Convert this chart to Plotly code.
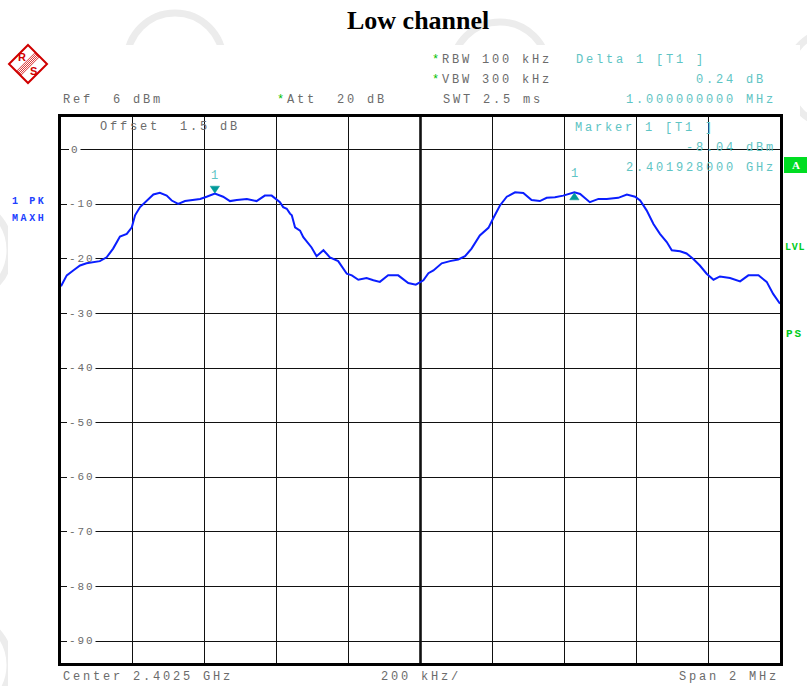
import plotly.graph_objects as go

# ---------------- data ----------------
freq_mhz = [2401.500, 2401.516, 2401.534, 2401.553, 2401.571, 2401.590, 2401.608, 2401.627,
            2401.645, 2401.664, 2401.683, 2401.697, 2401.706, 2401.720, 2401.738, 2401.757,
            2401.775, 2401.794, 2401.808, 2401.826, 2401.845, 2401.868, 2401.887, 2401.905,
            2401.928, 2401.951, 2401.970, 2401.989, 2402.017, 2402.044, 2402.067, 2402.086,
            2402.100, 2402.109, 2402.118, 2402.128, 2402.137, 2402.142, 2402.151, 2402.165,
            2402.174, 2402.188, 2402.197, 2402.211, 2402.230, 2402.248, 2402.271, 2402.295,
            2402.309, 2402.327, 2402.350, 2402.369, 2402.387, 2402.410, 2402.438, 2402.466,
            2402.487, 2402.508, 2402.522, 2402.536, 2402.559, 2402.582, 2402.605, 2402.624,
            2402.642, 2402.665, 2402.689, 2402.702, 2402.721, 2402.740, 2402.763, 2402.786,
            2402.809, 2402.832, 2402.851, 2402.874, 2402.897, 2402.928, 2402.944, 2402.971,
            2402.995, 2403.018, 2403.050, 2403.074, 2403.097, 2403.111, 2403.129, 2403.148,
            2403.166, 2403.185, 2403.199, 2403.222, 2403.240, 2403.259, 2403.277, 2403.296,
            2403.315, 2403.333, 2403.361, 2403.389, 2403.412, 2403.440, 2403.463, 2403.481,
            2403.498, 2403.500]
level_dbm = [-25.0, -23.0, -22.1, -21.2, -20.8, -20.6, -20.4, -19.7,
             -18.1, -15.9, -15.4, -14.2, -12.0, -10.5, -9.3, -8.2,
             -7.9, -8.4, -9.3, -9.9, -9.4, -9.2, -9.0, -8.6,
             -8.04, -8.6, -9.4, -9.2, -9.0, -9.4, -8.4, -8.4,
             -9.2, -9.6, -10.5, -10.8, -11.7, -12.0, -14.2, -14.8,
             -16.0, -17.2, -17.9, -19.5, -18.4, -19.7, -20.4, -22.7,
             -23.0, -23.8, -23.5, -23.9, -24.2, -23.0, -23.0, -24.4,
             -24.7, -23.9, -22.6, -22.1, -20.8, -20.4, -20.1, -19.5,
             -18.1, -15.7, -14.3, -12.6, -10.2, -8.6, -7.8, -7.9,
             -9.2, -9.4, -8.8, -8.7, -8.4, -7.80, -8.1, -9.6,
             -9.0, -9.0, -8.8, -8.2, -8.6, -9.3, -11.1, -13.6,
             -15.4, -16.9, -18.4, -18.6, -19.0, -20.0, -21.2, -22.7,
             -23.8, -23.2, -23.5, -24.1, -23.0, -23.0, -24.2, -26.4,
             -28.1, -28.2]

CENTER_MHZ = 2402.5
SPAN_MHZ = 2.0
DIV_MHZ = 0.2
REF_DBM = 6.0
RANGE_DB = 100.0
y_tick_vals = [0, -10, -20, -30, -40, -50, -60, -70, -80, -90]
y_tick_text = ["0", "-10", "-20", "-30", "-40", "-50", "-60", "-70", "-80", "-90"]
marker_freq_mhz = 2401.928
marker_level_dbm = -8.04
delta_freq_mhz = 2402.928
delta_level_dbm = -7.80

X_START = CENTER_MHZ - SPAN_MHZ / 2
X_STOP = CENTER_MHZ + SPAN_MHZ / 2

# ---------------- geometry / style ----------------
W, H = 807, 686
L, R, T, B = 61, 780, 117, 663

GRAY = "#6b6b6b"
CYAN = "#5ec4c4"
TEAL = "#009a9a"
GREEN = "#00cc22"
STAR = "#00c000"
BLUE_TXT = "#2040ff"
TRACE = "#0a1eff"
RED = "#d00000"
MONO = "Liberation Mono"


def px(xp):
    return (xp - L) / (R - L)


def py(yp):
    return (B - yp) / (B - T)


annotations = []


def mono(text, x, y, anchor="left", color=GRAY, size=12, ls=2.8, bold=False, star=False):
    t = text.replace(" ", "\u00a0")
    body = f'<span style="letter-spacing:{ls}px">{t}</span>'
    if star:
        body = f'<span style="color:{STAR};letter-spacing:{ls}px">*</span>' + body
    if bold:
        body = "<b>" + body + "</b>"
    xx = x + (ls if anchor == "right" else 0)
    annotations.append(dict(
        text=body, x=px(xx), y=py(y), xref="paper", yref="paper",
        xanchor=anchor, yanchor="middle", showarrow=False, borderpad=0,
        font=dict(family=MONO, size=size, color=color)))


def plain(text, x, y, family, size, color):
    annotations.append(dict(text=text, x=px(x), y=py(y), xref="paper", yref="paper",
                            xanchor="center", yanchor="middle", showarrow=False,
                            borderpad=0, font=dict(family=family, size=size, color=color)))


fig = go.Figure()
fig.add_trace(go.Scatter(x=freq_mhz, y=level_dbm, mode="lines",
                         line=dict(color=TRACE, width=2), hoverinfo="skip",
                         showlegend=False))

shapes = []

# faint watermark arcs in the margins
for cx, cy, r in [(175, 61, 48), (500, 70, 48), (835, 78, 48), (-40, 250, 50), (-40, 665, 50)]:
    shapes.append(dict(type="circle", xref="paper", yref="paper", layer="below",
                       x0=px(cx - r), x1=px(cx + r), y0=py(cy + r), y1=py(cy - r),
                       line=dict(color="#ececec", width=7)))
shapes.append(dict(type="rect", xref="paper", yref="paper", layer="below",
                   x0=px(8), x1=px(800), y0=py(700), y1=py(45),
                   fillcolor="white", line=dict(width=0)))

# thicker centre graticule line
shapes.append(dict(type="line", xref="x", yref="paper", layer="between",
                   x0=CENTER_MHZ, x1=CENTER_MHZ, y0=0, y1=1,
                   line=dict(color="black", width=2.5)))

# level labels inside the graticule, breaking the grid lines
for v, t in zip(y_tick_vals, y_tick_text):
    x0 = 6 if t.startswith("-") else 8
    wpx = len(t) * 8.5 + 3
    shapes.append(dict(type="rect", xref="x", yref="y", layer="between",
                       xsizemode="pixel", ysizemode="pixel",
                       xanchor=X_START, yanchor=v, x0=x0, x1=x0 + wpx, y0=-6, y1=6,
                       fillcolor="white", line=dict(width=0)))
    annotations.append(dict(text=f'<span style="letter-spacing:1.9px">{t}</span>',
                            x=px(L + x0 + 1), y=v, xref="paper", yref="y",
                            xanchor="left", yanchor="middle", showarrow=False, borderpad=0,
                            font=dict(family=MONO, size=11, color=GRAY)))

# marker symbols
shapes.append(dict(type="path", xref="x", yref="y", xsizemode="pixel", ysizemode="pixel",
                   xanchor=marker_freq_mhz, yanchor=marker_level_dbm,
                   path="M -4.7,7.5 L 4.7,7.5 L 0,0.5 Z",
                   fillcolor=TEAL, line=dict(color=TEAL, width=0.5)))
shapes.append(dict(type="path", xref="x", yref="y", xsizemode="pixel", ysizemode="pixel",
                   xanchor=delta_freq_mhz, yanchor=delta_level_dbm,
                   path="M -4.7,-7.5 L 4.7,-7.5 L 0,-0.5 Z",
                   fillcolor=TEAL, line=dict(color=TEAL, width=0.5)))
for f, lv in [(marker_freq_mhz, marker_level_dbm), (delta_freq_mhz, delta_level_dbm)]:
    annotations.append(dict(text="1", x=f, y=lv, xref="x", yref="y", showarrow=False,
                            yshift=18, xanchor="center", yanchor="middle", borderpad=0,
                            font=dict(family=MONO, size=12, color=CYAN)))

# R&S logo
cxl, cyl, hr = 28, 64, 19
diamond = (f"M {px(cxl)},{py(cyl - hr)} L {px(cxl + hr)},{py(cyl)} "
           f"L {px(cxl)},{py(cyl + hr)} L {px(cxl - hr)},{py(cyl)} Z")
shapes.append(dict(type="path", xref="paper", yref="paper", path=diamond,
                   line=dict(color=RED, width=2)))
for off in [-3, -1.5, 0, 1.5, 3]:
    shapes.append(dict(type="line", xref="paper", yref="paper",
                       x0=px(cxl + 9.5 + off * 0.7), y0=py(cyl - 9.5 + off * 0.7),
                       x1=px(cxl - 9.5 + off * 0.7), y1=py(cyl + 9.5 + off * 0.7),
                       line=dict(color=RED, width=0.8)))
plain("<b>R</b>", 21.5, 57.5, "Liberation Sans", 11, RED)
plain("<b>S</b>", 33, 70.5, "Liberation Sans", 11, RED)

# green "A" box on the right
shapes.append(dict(type="rect", xref="paper", yref="paper",
                   x0=px(784), x1=px(808), y0=py(173), y1=py(157),
                   fillcolor="#00dd22", line=dict(width=0)))
plain("<b>A</b>", 795.5, 165, "Liberation Serif", 11, "white")

# title
plain("<b>Low channel</b>", 418, 21, "Liberation Serif", 26, "black")

# header / footer texts
mono("Ref  6 dBm", 62, 100)
mono("Att  20 dB", 276, 100, star=True)
mono("RBW 100 kHz", 431, 60, star=True)
mono("VBW 300 kHz", 431, 80, star=True)
mono("SWT 2.5 ms", 442, 100)
mono("Delta 1 [T1 ]", 575, 60, color=CYAN)
mono("0.24 dB", 764, 80, anchor="right", color=CYAN)
mono("1.000000000 MHz", 774, 100, anchor="right", color=CYAN)
mono("Offset  1.5 dB", 99, 127)
mono("Marker 1 [T1 ]", 574, 128, color=CYAN)
mono("-8.04 dBm", 774, 148, anchor="right", color=CYAN)
mono("2.401928000 GHz", 774, 168, anchor="right", color=CYAN)
mono("Center 2.4025 GHz", 62, 677)
mono("200 kHz/", 421, 677, anchor="center")
mono("Span 2 MHz", 777, 677, anchor="right")
mono("1 PK", 11, 201, color=BLUE_TXT, size=10, ls=2.6, bold=True)
mono("MAXH", 11, 218, color=BLUE_TXT, size=10, ls=2.6, bold=True)
mono("LVL", 784, 247, color=GREEN, size=10, ls=0.8, bold=True)
mono("PS", 785, 334, color=GREEN, size=11, ls=2.0, bold=True)

fig.update_layout(
    width=W, height=H,
    margin=dict(l=L, r=W - R, t=T, b=H - B, pad=0),
    paper_bgcolor="white", plot_bgcolor="white",
    shapes=shapes, annotations=annotations,
    showlegend=False,
    xaxis=dict(range=[X_START, X_STOP], tick0=X_START, dtick=DIV_MHZ,
               showgrid=True, gridcolor="#111111", gridwidth=1,
               showticklabels=False, ticks="", zeroline=False,
               showline=True, linecolor="black", linewidth=3, mirror=True,
               fixedrange=True),
    yaxis=dict(range=[REF_DBM - RANGE_DB, REF_DBM], tickvals=y_tick_vals,
               showgrid=True, gridcolor="#111111", gridwidth=1,
               showticklabels=False, ticks="", zeroline=False,
               showline=True, linecolor="black", linewidth=3, mirror=True,
               fixedrange=True),
)

fig.write_html("out.html", config={"displayModeBar": False},
               post_script="document.body.style.margin='0';document.body.style.padding='0';"
                           "document.body.style.overflow='hidden';")
